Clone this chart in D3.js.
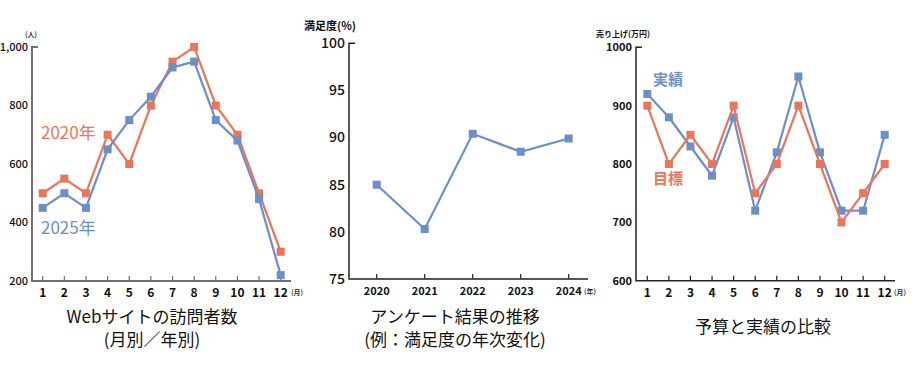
<!DOCTYPE html>
<html>
<head>
<meta charset="utf-8">
<script src="https://cdn.jsdelivr.net/npm/d3@7"></script>
<style>
  body { margin: 0; background: #fff; }
  svg { display: block; font-family: "Noto Sans CJK JP", "Noto Sans", sans-serif; }
</style>
</head>
<body>
<svg id="chart" width="918" height="366"></svg>
<script>
// --- data ---
var months = [1, 2, 3, 4, 5, 6, 7, 8, 9, 10, 11, 12];
var visitors2020 = [500, 550, 500, 700, 600, 800, 950, 1000, 800, 700, 500, 300];
var visitors2025 = [450, 500, 450, 650, 750, 830, 930, 950, 750, 680, 480, 220];
var visitorTicks = [200, 400, 600, 800, 1000];

var years = [2020, 2021, 2022, 2023, 2024];
var satisfaction = [85, 80.3, 90.4, 88.5, 89.9];
var satisfactionTicks = [75, 80, 85, 90, 95, 100];

var salesActual = [920, 880, 830, 780, 880, 720, 820, 950, 820, 720, 720, 850];
var salesTarget = [900, 800, 850, 800, 900, 750, 800, 900, 800, 700, 750, 800];
var salesTicks = [600, 700, 800, 900, 1000];

var ORANGE = '#ec7459';
var BLUE = '#6b8fc6';

var svg = d3.select('#chart');

function drawChart(o) {
    var g = svg.append('g');
    var x = d3.scalePoint().domain(o.cats).range(o.xRange);
    var y = d3.scaleLinear().domain(o.yDomain).range(o.yRange);

    // axis lines, with a short tick at the top of the y axis
    g.append('path')
        .attr('d', `M${o.axisX + 6},${y(o.yDomain[1])}H${o.axisX}V${o.yRange[0]}H${o.axisEnd}`)
        .attr('fill', 'none')
        .attr('stroke', o.axisColor)
        .attr('stroke-width', o.axisWidth);

    // x ticks point up
    g.selectAll('.xt').data(o.cats).join('line')
        .attr('x1', d => x(d)).attr('x2', d => x(d))
        .attr('y1', o.yRange[0]).attr('y2', o.yRange[0] - 5)
        .attr('stroke', o.axisColor).attr('stroke-width', 1.2);

    g.selectAll('.xl').data(o.cats).join('text')
        .attr('x', d => x(d)).attr('y', o.yRange[0] + 16)
        .attr('text-anchor', 'middle')
        .attr('font-size', o.xFont).attr('font-weight', 'bold').attr('fill', '#111')
        .text(d => d);

    g.selectAll('.yl').data(o.yTicks).join('text')
        .attr('x', o.axisX - 4).attr('y', d => y(d))
        .attr('dy', '0.35em')
        .attr('text-anchor', 'end')
        .attr('font-size', o.yFont).attr('font-weight', o.yWeight).attr('fill', '#111')
        .text(d => o.yFormat ? o.yFormat(d) : d);

    o.series.forEach(s => {
        g.append('path')
            .datum(s.values)
            .attr('fill', 'none')
            .attr('stroke', s.color)
            .attr('stroke-width', 2.2)
            .attr('d', d3.line().x((d, i) => x(o.cats[i])).y(d => y(d)));
        g.selectAll(null).data(s.values).join('rect')
            .attr('x', (d, i) => x(o.cats[i]) - 4)
            .attr('y', d => y(d) - 4)
            .attr('width', 8).attr('height', 8)
            .attr('fill', s.color);
    });
    return g;
}

function label(x, y, txt, size, weight, color, anchor) {
    svg.append('text')
        .attr('x', x).attr('y', y)
        .attr('font-size', size).attr('font-weight', weight)
        .attr('fill', color || '#111')
        .attr('text-anchor', anchor || 'start')
        .text(txt);
}

// left chart
drawChart({
    cats: months, xRange: [42.7, 280.7],
    yDomain: [200, 1000], yRange: [281, 47], yTicks: visitorTicks,
    axisX: 32, axisEnd: 291, axisColor: '#707070', axisWidth: 2,
    xFont: 12, yFont: 11, yWeight: 500,
    yFormat: d3.format(','),
    series: [
        { values: visitors2020, color: ORANGE },
        { values: visitors2025, color: BLUE }
    ]
});
label(25, 37, '(人)', 7, 500);
label(291, 295, '(月)', 7, 500);
label(41, 139, '2020年', 17, 400, ORANGE);
label(41, 234, '2025年', 17, 400, BLUE);

// middle chart
drawChart({
    cats: years, xRange: [376.7, 568.7],
    yDomain: [75, 100], yRange: [279, 43.3], yTicks: satisfactionTicks,
    axisX: 349, axisEnd: 588, axisColor: '#222', axisWidth: 1.5,
    xFont: 11, yFont: 14, yWeight: 500,
    series: [{ values: satisfaction, color: BLUE }]
});
label(304, 30, '満足度(%)', 11, 'bold');
label(584, 294, '(年)', 7, 500);

// right chart
drawChart({
    cats: months, xRange: [647.3, 884.7],
    yDomain: [600, 1000], yRange: [280.7, 47.3], yTicks: salesTicks,
    axisX: 636, axisEnd: 895, axisColor: '#222', axisWidth: 1.5,
    xFont: 12, yFont: 11, yWeight: 'bold',
    series: [
        { values: salesActual, color: BLUE },
        { values: salesTarget, color: ORANGE }
    ]
});
label(596, 37, '売り上げ(万円)', 8, 'bold');
label(894, 295, '(月)', 7, 500);
label(653, 85, '実績', 15, 'bold', BLUE);
label(653, 184, '目標', 15, 'bold', ORANGE);

// titles
label(152, 323, 'Webサイトの訪問者数', 17, 400, '#111', 'middle');
label(152, 346, '(月別／年別)', 17, 400, '#111', 'middle');
label(455, 323, 'アンケート結果の推移', 17, 400, '#111', 'middle');
label(455, 346, '(例：満足度の年次変化)', 17, 400, '#111', 'middle');
label(763, 333, '予算と実績の比較', 17, 400, '#111', 'middle');
</script>
</body>
</html>
